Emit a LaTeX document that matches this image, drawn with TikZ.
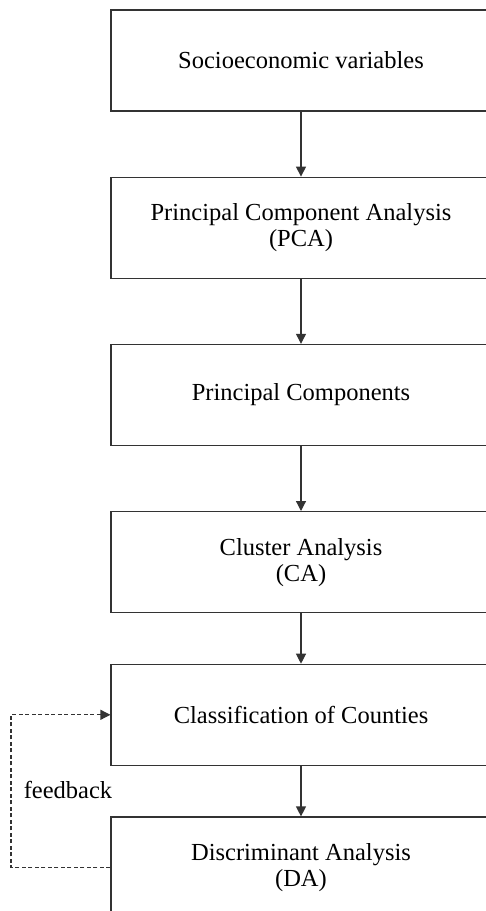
\documentclass[tikz,border=0pt]{standalone}
\usepackage{fontspec}
\setmainfont{Liberation Serif}
\usetikzlibrary{positioning,arrows.meta}

\tikzset{
	stage/.style={draw=black!80, line width=1.2pt, minimum width=380pt, minimum height=101pt,
		align=center, font=\fontsize{24.5}{26}\selectfont, inner sep=0pt},
	flow/.style={draw=black!80, line width=1.2pt, -{Triangle[width=10pt,length=10pt]}},
	loop/.style={flow, dash pattern=on 4pt off 2.5pt}
}

\begin{document}
\begin{tikzpicture}[x=1pt,y=1pt]
	\clip (0,0) rectangle (486,-911);
	\useasboundingbox (0,0) rectangle (486,-911);
	\node[stage] (vars) at (301,-60.5) {Socioeconomic variables};
	\node[stage, below=65pt of vars] (pca) {Principal Component Analysis\\(PCA)};
	\node[stage, below=65pt of pca] (pcs) {Principal Components};
	\node[stage, below=65pt of pcs] (ca) {Cluster Analysis\\(CA)};
	\node[stage, below=50.5pt of ca] (cls) {Classification of Counties};
	\node[stage, below=50.5pt of cls] (da) {Discriminant Analysis\\(DA)};
	\coordinate (back) at (11,0);
	\draw[flow] (vars) -- (pca);
	\draw[flow] (pca) -- (pcs);
	\draw[flow] (pcs) -- (ca);
	\draw[flow] (ca) -- (cls);
	\draw[flow] (cls) -- (da);
	\draw[loop] (da.west) -- (da.west -| back) |- (cls.west);
	\node[font=\fontsize{24.5}{26}\selectfont, inner sep=0pt] (fb) at (68,-789.5) {feedback};
\end{tikzpicture}
\end{document}
